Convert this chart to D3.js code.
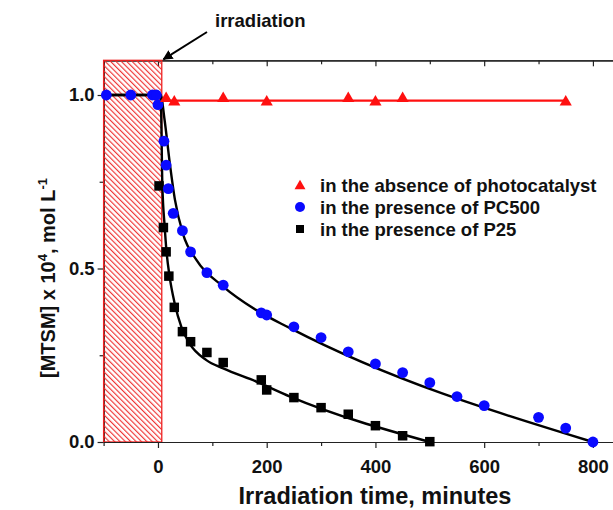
<!DOCTYPE html>
<html><head><meta charset="utf-8">
<script src="https://cdn.jsdelivr.net/npm/d3@7"></script>
<style>
html,body{margin:0;padding:0;background:#fff;}
svg{display:block;font-family:"Liberation Sans",Arial,sans-serif;font-weight:bold;}
</style></head>
<body>
<svg id="chart" width="613" height="510"></svg>
<script>
// ---- data ----
const timeNoCat = [15, 30, 120, 200, 350, 400, 450, 750];
const valNoCat  = [0.99, 0.98, 0.99, 0.98, 0.99, 0.98, 0.99, 0.98];
const lineNoCatX = [7, 750];
const lineNoCatY = [0.984, 0.984];

const timePC500 = [-95, -50, -10, -3, 0, 11, 15, 19, 28, 45, 60, 90, 120, 190, 200, 250, 300, 350, 400, 450, 500, 550, 600, 700, 750, 800];
const valPC500  = [1.0, 1.0, 1.0, 1.0, 0.972, 0.867, 0.798, 0.730, 0.659, 0.609, 0.548, 0.488, 0.452, 0.372, 0.366, 0.332, 0.301, 0.260, 0.225, 0.200, 0.171, 0.131, 0.105, 0.071, 0.040, 0.0];

const timeP25 = [2, 10, 15, 20, 30, 45, 60, 90, 120, 190, 200, 250, 300, 350, 400, 450, 500];
const valP25  = [0.738, 0.618, 0.548, 0.478, 0.388, 0.318, 0.289, 0.258, 0.229, 0.179, 0.150, 0.128, 0.099, 0.080, 0.047, 0.018, 0.001];

const fitPC500X = [-100, 5, 12, 22, 31, 46, 71, 120, 181, 243, 800];
const fitPC500Y = [1.0, 1.0, 0.93, 0.80, 0.70, 0.60, 0.524, 0.448, 0.38, 0.328, 0.0];
const fitP25X = [-100, 5, 8, 12.4, 15.5, 21.5, 30.7, 43, 58, 89, 120, 181, 243, 500];
const fitP25Y = [1.0, 1.0, 0.745, 0.62, 0.553, 0.476, 0.40, 0.332, 0.284, 0.236, 0.212, 0.174, 0.131, 0.0];

const darkPeriod = [-100, 7];
const xMajorTicks = [0, 200, 400, 600, 800];
const xMinorTicks = [-100, 100, 300, 500, 700];
const yMajorTicks = [0.0, 0.5, 1.0];
const yMinorTicks = [0.25, 0.75];
const legendLabels = ["in the absence of photocatalyst", "in the presence of PC500", "in the presence of P25"];

// ---- chart ----
const svg = d3.select("#chart");
const x = d3.scaleLinear().domain([-100, 850]).range([103.6, 620.1]);
const y = d3.scaleLinear().domain([0, 1.1]).range([442, 60.3]);
const defs = svg.append("defs");
const pat = defs.append("pattern").attr("id", "hatch").attr("patternUnits", "userSpaceOnUse")
  .attr("width", 3.8).attr("height", 3.8).attr("patternTransform", "rotate(-45)");
pat.append("line").attr("x1", 0.6).attr("y1", 0).attr("x2", 0.6).attr("y2", 3.8)
  .attr("stroke", "#ee2a2a").attr("stroke-width", 1.1);

const axisStyle = g => {
  g.selectAll("path.domain").attr("stroke", "#222").attr("stroke-width", 1.2);
  g.selectAll(".tick line").attr("stroke", "#222").attr("stroke-width", 1.2);
  g.selectAll("text").attr("font-family", "Liberation Sans, Arial, sans-serif")
    .attr("font-weight", "bold").attr("font-size", 18.5).attr("fill", "#111");
};
// top axis (inward ticks)
svg.append("g").attr("transform", `translate(0,${y(1.1)})`)
  .call(d3.axisTop(x).tickValues(xMajorTicks).tickSize(-6).tickSizeOuter(0).tickFormat(""))
  .call(axisStyle);
svg.append("g").attr("transform", `translate(0,${y(1.1)})`)
  .call(d3.axisTop(x).tickValues(xMinorTicks).tickSize(-4).tickSizeOuter(0).tickFormat(""))
  .call(axisStyle);
// right axis
svg.append("g").attr("transform", `translate(${x(850)},0)`)
  .call(d3.axisRight(y).tickValues(yMajorTicks).tickSize(-6).tickSizeOuter(0).tickFormat(""))
  .call(axisStyle);
svg.append("g").attr("transform", `translate(${x(850)},0)`)
  .call(d3.axisRight(y).tickValues(yMinorTicks).tickSize(-4).tickSizeOuter(0).tickFormat(""))
  .call(axisStyle);
// left axis
svg.append("g").attr("transform", `translate(${x(-100)},0)`)
  .call(d3.axisLeft(y).tickValues(yMajorTicks).tickSize(6).tickSizeOuter(0).tickPadding(3).tickFormat(d3.format(".1f")))
  .call(axisStyle);
svg.append("g").attr("transform", `translate(${x(-100)},0)`)
  .call(d3.axisLeft(y).tickValues(yMinorTicks).tickSize(4).tickSizeOuter(0).tickFormat(""))
  .call(axisStyle);

// hatched dark period
svg.append("rect")
  .attr("x", x(darkPeriod[0])).attr("y", y(1.1))
  .attr("width", x(darkPeriod[1]) - x(darkPeriod[0])).attr("height", y(0) - y(1.1))
  .attr("fill", "url(#hatch)").attr("stroke", "#ee2222").attr("stroke-width", 1.3);

// bottom axis
svg.append("g").attr("transform", `translate(0,${y(0)})`)
  .call(d3.axisBottom(x).tickValues(xMajorTicks).tickSize(6).tickSizeOuter(0).tickPadding(12).tickFormat(d3.format("d")))
  .call(axisStyle);
svg.append("g").attr("transform", `translate(0,${y(0)})`)
  .call(d3.axisBottom(x).tickValues(xMinorTicks).tickSize(4).tickSizeOuter(0).tickFormat(""))
  .call(axisStyle);

// lines
const line = d3.line().x(d => x(d[0])).y(d => y(d[1])).curve(d3.curveMonotoneX);
svg.append("path").datum(d3.zip(lineNoCatX, lineNoCatY)).attr("d", d3.line().x(d => x(d[0])).y(d => y(d[1])))
  .attr("fill", "none").attr("stroke", "#ff1010").attr("stroke-width", 2.2);
svg.append("path").datum(d3.zip(fitP25X, fitP25Y)).attr("d", line)
  .attr("fill", "none").attr("stroke", "#000").attr("stroke-width", 2.4);
svg.append("path").datum(d3.zip(fitPC500X, fitPC500Y)).attr("d", line)
  .attr("fill", "none").attr("stroke", "#000").attr("stroke-width", 2.4);

// markers
const sq = 9.5;
svg.append("g").selectAll("rect").data(d3.zip(timeP25, valP25)).join("rect")
  .attr("x", d => x(d[0]) - sq / 2).attr("y", d => y(d[1]) - sq / 2)
  .attr("width", sq).attr("height", sq).attr("fill", "#000");
svg.append("g").selectAll("circle").data(d3.zip(timePC500, valPC500)).join("circle")
  .attr("cx", d => x(d[0])).attr("cy", d => y(d[1])).attr("r", 5.4).attr("fill", "#0a0aff");
const tri = d3.symbol().type(d3.symbolTriangle).size(64);
svg.append("g").selectAll("path").data(d3.zip(timeNoCat, valNoCat)).join("path")
  .attr("transform", d => `translate(${x(d[0])},${y(d[1])})`).attr("d", tri).attr("fill", "#ff1010");

// legend
const leg = svg.append("g").attr("transform", "translate(300,185)");
const legY = [0, 22, 44];
leg.append("path").attr("transform", `translate(0,${legY[0] + 1})`).attr("d", d3.symbol().type(d3.symbolTriangle).size(52)).attr("fill", "#ff1010");
leg.append("circle").attr("cx", 0).attr("cy", legY[1]).attr("r", 5).attr("fill", "#0a0aff");
leg.append("rect").attr("x", -4).attr("y", legY[2] - 4).attr("width", 8).attr("height", 8).attr("fill", "#000");
leg.selectAll("text").data(legendLabels).join("text")
  .attr("x", 20).attr("y", (d, i) => legY[i] + 6.5)
  .attr("font-size", 18.5).attr("fill", "#111").text(d => d);

// annotation
defs.append("marker").attr("id", "arrow").attr("viewBox", "0 0 10 10").attr("refX", 9).attr("refY", 5)
  .attr("markerWidth", 5).attr("markerHeight", 5).attr("orient", "auto")
  .append("path").attr("d", "M0,0 L10,5 L0,10 Z").attr("fill", "#000");
svg.append("line").attr("x1", 207).attr("y1", 32).attr("x2", x(10)).attr("y2", y(1.1) - 1)
  .attr("stroke", "#000").attr("stroke-width", 2).attr("marker-end", "url(#arrow)");
svg.append("text").attr("x", 215).attr("y", 27).attr("font-size", 18.5).attr("fill", "#111").text("irradiation");

// axis titles
svg.append("text").attr("x", 375).attr("y", 504).attr("text-anchor", "middle")
  .attr("font-size", 23.5).attr("fill", "#111").text("Irradiation time, minutes");
const yt = svg.append("text").attr("transform", "translate(55,278) rotate(-90)")
  .attr("text-anchor", "middle").attr("font-size", 20).attr("fill", "#111");
yt.append("tspan").text("[MTSM] x 10");
yt.append("tspan").attr("dy", -8).attr("font-size", 13).text("4");
yt.append("tspan").attr("dy", 8).text(", mol L");
yt.append("tspan").attr("dy", -8).attr("font-size", 13).text("-1");
</script>
</body></html>
